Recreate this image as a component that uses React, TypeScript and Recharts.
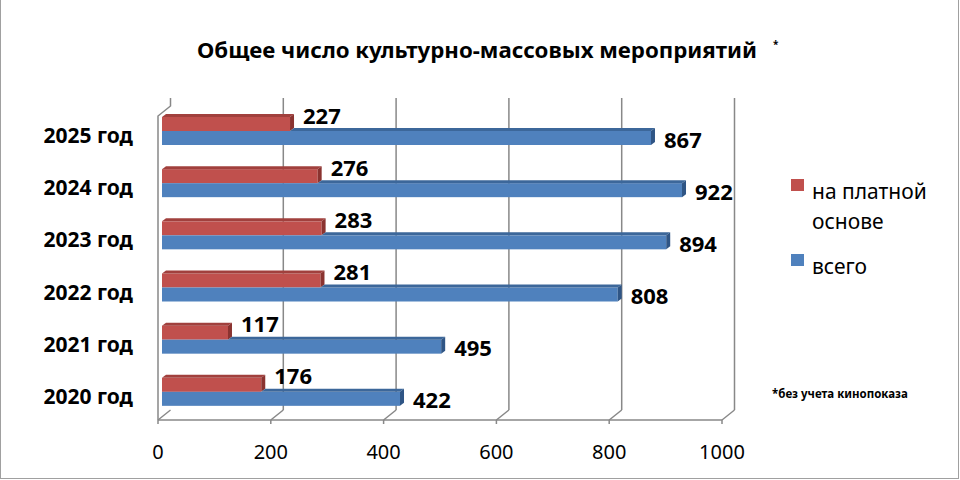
import React from "react";
import { BarChart, Bar, XAxis, YAxis, CartesianGrid, LabelList } from "recharts";

const categories = ["2025 год", "2024 год", "2023 год", "2022 год", "2021 год", "2020 год"];
const paidValues = [227, 276, 283, 281, 117, 176];
const totalValues = [867, 922, 894, 808, 495, 422];
const xTicks = [0, 200, 400, 600, 800, 1000];
const gridTicks = [200, 400, 600, 800, 1000];
const paidName = "на платной основе";
const totalName = "всего";

const FONT = "'Noto Sans', 'Open Sans', sans-serif";
const FRAME = "#888888";
const DX = 4; // глубина 3D по x
const DY = 3; // глубина 3D по y
const SHIFT = 4; // бары чуть глубже передней оси
const BACK = 12.5; // сдвиг задней стенки

const RED = { front: "#C0504D", top: "#A1403D", side: "#8A3330" };
const BLUE = { front: "#4F81BD", top: "#3C679A", side: "#2F5585" };

type Row = { name: string; paid: number; total: number };

const data: Row[] = categories.map((name, i) => ({
  name,
  paid: paidValues[i],
  total: totalValues[i],
}));

const Bar3D = (colors: typeof RED, isTotal: boolean) => (p: any) => {
  const { y, width, height, payload } = p;
  const x = p.x + SHIFT;
  if (!width) return null;
  // у синего бара верхняя грань видна только справа от красного
  const sx = isTotal ? x + (payload.paid / payload.total) * width : x;
  return (
    <g>
      <rect x={x} y={y} width={width} height={height} fill={colors.front} />
      <polygon
        points={`${sx},${y} ${sx + DX},${y - DY} ${x + width + DX},${y - DY} ${x + width},${y}`}
        fill={colors.top}
      />
      <polygon
        points={`${x + width},${y} ${x + width + DX},${y - DY} ${x + width + DX},${y + height - DY} ${x + width},${y + height}`}
        fill={colors.side}
      />
    </g>
  );
};

const valueLabel = (dyCenter: number) => (p: any) => {
  const vb = p.viewBox ?? p;
  const x = (vb.x ?? p.x) + SHIFT;
  const w = vb.width ?? p.width;
  const y = vb.y ?? p.y;
  const h = vb.height ?? p.height;
  return (
    <text
      x={x + w + 13}
      y={y + h / 2 + dyCenter + 7.5}
      fontFamily={FONT}
      fontWeight={700}
      fontSize={22}
      fill="#000"
    >
      {p.value}
    </text>
  );
};

const YTick = (p: any) => (
  <text
    x={p.x - 25}
    y={p.y + 12}
    textAnchor="end"
    fontFamily={FONT}
    fontWeight={700}
    fontSize={21}
    fill="#000"
  >
    {p.payload.value}
  </text>
);

const XTick = (p: any) => {
  const { x, y } = p;
  const v = p.payload.value;
  return (
    <g>
      <line x1={x} y1={y} x2={x} y2={y + 4} stroke={FRAME} strokeWidth={1.5} />
      <line x1={x} y1={y} x2={x + BACK} y2={y - 10} stroke={FRAME} strokeWidth={1.5} />
      {v === 0 && (
        <polyline
          points={`${x},${y} ${x},${y - 304} ${x + BACK},${y - 314} ${x + BACK},${y - 322}`}
          fill="none"
          stroke={FRAME}
          strokeWidth={1.5}
        />
      )}
      <text
        x={x}
        y={y + 39}
        textAnchor="middle"
        fontFamily={FONT}
        fontSize={20}
        fill="#000"
      >
        {v}
      </text>
    </g>
  );
};

// задняя стенка: линии сетки по шкале оси, сдвинутые в глубину
const backGrid = (args: any) => {
  const scale = args?.xAxis?.scale;
  const off = args.offset;
  return gridTicks.map((v) => {
    const px = typeof scale === "function" ? scale(v) : off.left + (v / 1000) * off.width;
    return px + BACK;
  });
};

export default function App() {
  return (
    <div
      style={{
        position: "absolute",
        left: 0,
        top: 0,
        width: 960,
        height: 480,
        background: "#fff",
        overflow: "hidden",
        fontFamily: FONT,
      }}
    >
      <div
        style={{
          position: "absolute",
          left: 0,
          top: -4,
          width: 959,
          height: 483,
          border: "1.5px solid #a0a0a0",
          boxSizing: "border-box",
        }}
      />
      <svg width={960} height={100} style={{ position: "absolute", left: 0, top: 0 }}>
        <text
          x={197}
          y={58}
          textLength={560}
          lengthAdjust="spacingAndGlyphs"
          fontFamily={FONT}
          fontWeight={700}
          fontSize={22}
          fill="#000"
        >
          Общее число культурно-массовых мероприятий
        </text>
        <text x={773} y={48} fontFamily={FONT} fontWeight={700} fontSize={10} fill="#000">
          *
        </text>
      </svg>

      <div style={{ position: "absolute", left: 0, top: 0 }}>
        <BarChart
          width={960}
          height={480}
          data={data}
          layout="vertical"
          margin={{ top: 105, right: 238, bottom: 0, left: 0 }}
          barSize={14}
          barGap={0}
        >
          <CartesianGrid
            horizontal={false}
            vertical
            verticalCoordinatesGenerator={backGrid}
            y={98}
            height={312}
            stroke={FRAME}
            strokeWidth={1.5}
          />
          <XAxis
            type="number"
            domain={[0, 1000]}
            ticks={xTicks}
            height={60}
            tickSize={0}
            tickMargin={0}
            axisLine={{ stroke: FRAME, strokeWidth: 1.5 }}
            tickLine={false}
            tick={<XTick />}
            interval={0}
          />
          <YAxis
            type="category"
            dataKey="name"
            width={158}
            padding={{ top: 0, bottom: 2 }}
            axisLine={false}
            tickLine={false}
            tickSize={0}
            tickMargin={0}
            tick={<YTick />}
            interval={0}
          />
          <Bar dataKey="paid" name={paidName} shape={Bar3D(RED, false)} isAnimationActive={false}>
            <LabelList dataKey="paid" content={valueLabel(-8)} />
          </Bar>
          <Bar dataKey="total" name={totalName} shape={Bar3D(BLUE, true)} isAnimationActive={false}>
            <LabelList dataKey="total" content={valueLabel(2)} />
          </Bar>
        </BarChart>
      </div>

      {/* легенда */}
      <div style={{ position: "absolute", left: 791, top: 176, fontSize: 21, lineHeight: "30px", color: "#000" }}>
        <div style={{ position: "relative", paddingLeft: 21 }}>
          <span style={{ position: "absolute", left: 0, top: 3, width: 13, height: 12, background: RED.front }} />
          на платной
          <br />
          основе
        </div>
        <div style={{ position: "relative", paddingLeft: 21, marginTop: 15 }}>
          <span style={{ position: "absolute", left: 0, top: 3, width: 13, height: 12, background: BLUE.front }} />
          {totalName}
        </div>
      </div>

      <svg width={960} height={480} style={{ position: "absolute", left: 0, top: 0, pointerEvents: "none" }}>
        <text x={772} y={398} fontFamily={FONT} fontWeight={700} fontSize={11.5} fill="#000">
          *без учета кинопоказа
        </text>
      </svg>
    </div>
  );
}
